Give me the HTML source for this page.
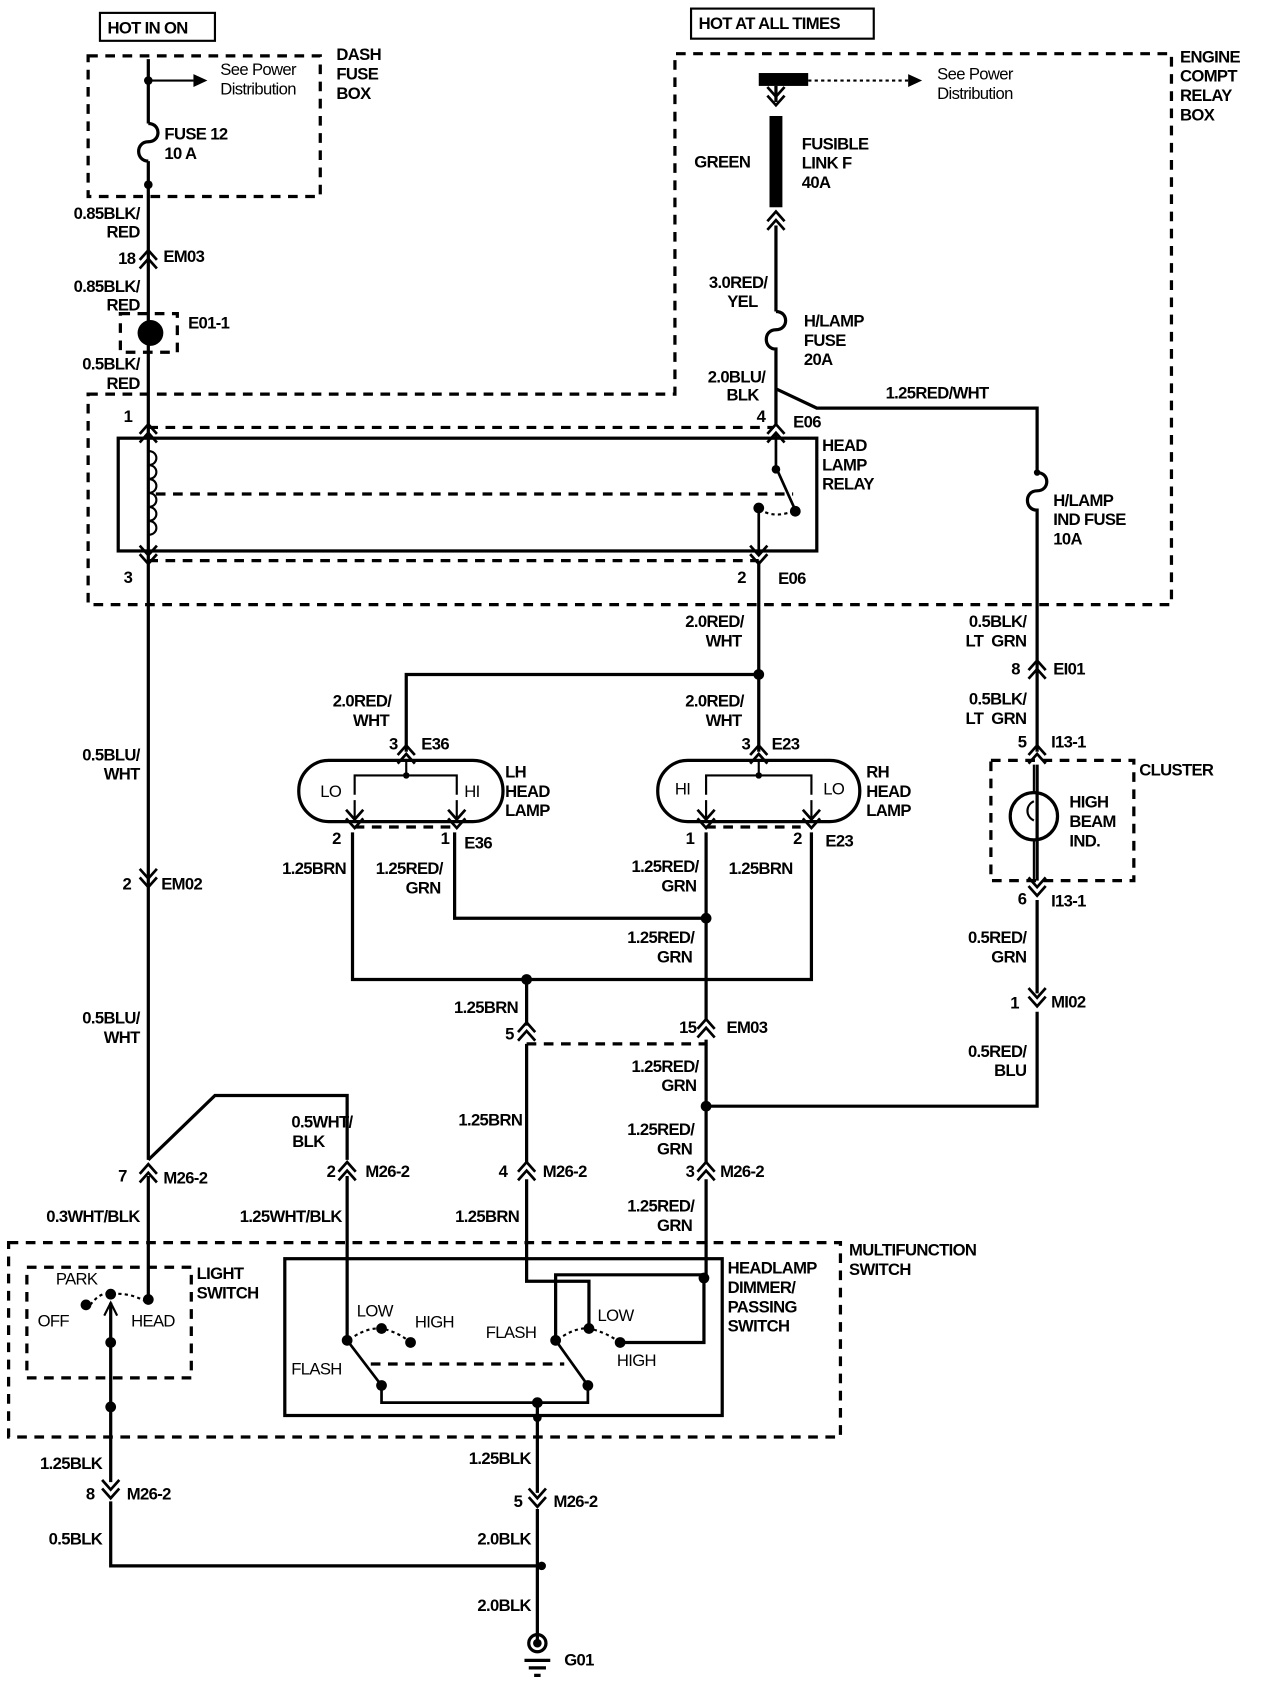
<!DOCTYPE html>
<html><head><meta charset="utf-8"><style>
html,body{margin:0;padding:0;background:#fff;}
svg{display:block;}
text{font-family:"Liberation Sans",sans-serif;font-weight:bold;font-size:15.5px;fill:#000;letter-spacing:-0.6px;}
.r{text-anchor:end;}
</style></head><body>
<svg width="1280" height="1684" viewBox="0 0 1191 1568" preserveAspectRatio="none" xmlns="http://www.w3.org/2000/svg">
<defs>
<path id="up" d="M-8,6 L0,-3 L8,6 M-8,14 L0,5 L8,14" fill="none" stroke="#000" stroke-width="2.5"/>
<path id="dn" d="M-8,-6 L0,3 L8,-6 M-8,2 L0,11 L8,2" fill="none" stroke="#000" stroke-width="2.5"/>
</defs>
<g fill="none" stroke="#000" stroke-width="3">
<rect x="93" y="12" width="107" height="26" stroke-width="2"/>
<rect x="643" y="8" width="170" height="28" stroke-width="2"/>
<g stroke-dasharray="9,7" stroke-width="3">
<rect x="82" y="52" width="216" height="131"/>
<path d="M82,367 H628 V50 H1090 V563 H82 Z"/>
<rect x="112" y="292" width="53" height="36"/>
<path d="M138,398 H720 M138,522 H706 M145,460 H738"/>
<rect x="922" y="708" width="133" height="112"/>
<path d="M330,770 H420 M657,770 H745 M490,972 H657"/>
<rect x="8" y="1157" width="774" height="181"/>
<rect x="25" y="1180" width="153" height="103"/>
<path d="M345,1270 H525"/>
</g>
<path d="M138,55 V115 M138,150 V1080"/>
<path d="M138,115 c12,0 12,17 0,17 c-12,0 -12,18 0,18"/>
<path d="M138,75 H180" stroke-width="2"/>
<path d="M138,1095 V1210"/>
<path d="M138,1080 L200,1020 H323 V1080"/>
<path d="M323,1095 V1248"/>
<rect x="110" y="408" width="650" height="105"/>
<path d="M138,420 c10,0 10,13 0,13 c10,0 10,13 0,13 c10,0 10,13 0,13 c10,0 10,13 0,13 c10,0 10,13 0,13 c10,0 10,13 0,13" stroke-width="2"/>
<path d="M722,405 V435 L740,475 M706,473 V515" stroke-width="2.5"/>
<path d="M712,477 Q725,482 740,475" stroke-width="2" stroke-dasharray="3,3"/>
<path d="M752,75 H845" stroke-width="2" stroke-dasharray="3,3"/>
<path d="M722,80 V95 M722,210 V290"/>
<path d="M722,290 c12,0 12,17 0,17 c-12,0 -12,18 0,18 V395"/>
<path d="M722,362 L760,380 H965 V440"/>
<path d="M965,440 c12,0 12,17 0,17 c-12,0 -12,18 0,18 V700"/>
<path d="M965,712 V820 M965,838 V925 M965,942 V1030 H657"/>
<path d="M706,522 V700 M706,628 H378 V700"/>
<rect x="278" y="708" width="190" height="57" rx="28"/>
<rect x="612" y="708" width="188" height="57" rx="28"/>
<path d="M378,708 V722 M330,740 V722 H425 V740 M330,745 V765 M425,745 V765" stroke-width="2"/>
<path d="M706,708 V722 M657,740 V722 H755 V740 M657,745 V765 M755,745 V765" stroke-width="2"/>
<path d="M328,775 V912 H755 V775 M423,775 V855 H657 M657,775 V950 M657,968 V1082 M490,912 V955 M490,972 V1082 M657,1098 V1187 M490,1098 V1193 H548 V1237 M517,1248 V1187 H655 V1250 H577"/>
<rect x="265" y="1172" width="407" height="146"/>
<path d="M323,1248 L355,1290 V1306 H547 V1290 L517,1248" stroke-width="2.5"/>
<path d="M330,1244 Q343,1236 355,1237 Q370,1240 382,1250" stroke-width="2" stroke-dasharray="3,3"/>
<path d="M524,1244 Q537,1236 548,1237 Q563,1240 577,1250" stroke-width="2" stroke-dasharray="3,3"/>
<path d="M103,1213 V1380 M103,1398 V1458 H504 M500,1306 V1390 M500,1405 V1530"/>
<path d="M84,1215 Q94,1202 103,1205 Q120,1203 136,1212" stroke-width="2" stroke-dasharray="3,3"/>
<path d="M97,1225 L103,1213 L109,1225" stroke-width="2"/>
<circle cx="500" cy="1530" r="8"/>
<path d="M488,1546 H512 M492,1553 H508 M497,1560 H503" stroke-width="3"/>
</g>
<g fill="#000">
<circle cx="138" cy="75" r="4"/><circle cx="138" cy="172" r="4"/>
<path d="M180,69 L193,75 L180,81 Z"/><path d="M845,69 L858,75 L845,81 Z"/>
<circle cx="140" cy="310" r="12"/>
<rect x="706" y="68" width="46" height="12"/>
<rect x="716" y="108" width="12" height="85"/>
<circle cx="722" cy="437" r="4"/><circle cx="706" cy="473" r="5"/><circle cx="740" cy="476" r="5"/>
<circle cx="965" cy="440" r="3"/><circle cx="706" cy="628" r="5"/>
<circle cx="490" cy="912" r="5"/><circle cx="657" cy="855" r="5"/><circle cx="657" cy="1030" r="5"/>
<circle cx="378" cy="722" r="3"/><circle cx="706" cy="722" r="3"/>
<circle cx="323" cy="1248" r="5"/><circle cx="355" cy="1237" r="5"/><circle cx="382" cy="1250" r="5"/>
<circle cx="355" cy="1290" r="5"/><circle cx="547" cy="1290" r="5"/><circle cx="500" cy="1306" r="5"/><circle cx="500" cy="1320" r="4"/>
<circle cx="517" cy="1248" r="5"/><circle cx="548" cy="1237" r="5"/><circle cx="577" cy="1250" r="5"/><circle cx="655" cy="1190" r="5"/>
<circle cx="138" cy="1210" r="5"/><circle cx="80" cy="1215" r="5"/><circle cx="103" cy="1205" r="5"/>
<circle cx="103" cy="1250" r="5"/><circle cx="103" cy="1310" r="5"/><circle cx="504" cy="1458" r="4"/>
<circle cx="500" cy="1530" r="4"/>
</g>
<circle cx="962" cy="760" r="22" fill="none" stroke="#000" stroke-width="3"/>
<path d="M962,712 V738 M962,782 V820 M962,746 c-8,4 -8,14 0,18" fill="none" stroke="#000" stroke-width="2"/>
<use href="#up" x="138" y="236"/><use href="#up" x="138" y="398"/><use href="#up" x="722" y="398"/>
<use href="#dn" x="138" y="514"/><use href="#dn" x="706" y="514"/>
<use href="#dn" x="722" y="87"/><use href="#up" x="722" y="200"/>
<use href="#up" x="965" y="618"/><use href="#up" x="965" y="697"/>
<use href="#dn" x="965" y="823"/><use href="#dn" x="965" y="926"/>
<use href="#up" x="378" y="697"/><use href="#up" x="706" y="697"/>
<use href="#dn" x="330" y="760"/><use href="#dn" x="425" y="760"/><use href="#dn" x="657" y="760"/><use href="#dn" x="755" y="760"/>
<use href="#dn" x="138" y="815"/>
<use href="#up" x="490" y="955"/><use href="#up" x="657" y="952"/>
<use href="#up" x="138" y="1087"/><use href="#up" x="323" y="1085"/><use href="#up" x="490" y="1085"/><use href="#up" x="657" y="1085"/>
<use href="#dn" x="103" y="1384"/><use href="#dn" x="500" y="1392"/>
<text x="100" y="31">HOT IN ON</text>
<text x="650" y="27">HOT AT ALL TIMES</text>
<text x="205" y="70" style="font-weight:normal">See Power</text>
<text x="205" y="88" style="font-weight:normal">Distribution</text>
<text x="313" y="56">DASH</text><text x="313" y="74">FUSE</text><text x="313" y="92">BOX</text>
<text x="153" y="130">FUSE 12</text><text x="153" y="148">10 A</text>
<text class="r" x="130" y="204">0.85BLK/</text><text class="r" x="130" y="221">RED</text>
<text class="r" x="126" y="246">18</text><text x="152" y="244">EM03</text>
<text class="r" x="130" y="272">0.85BLK/</text><text class="r" x="130" y="289">RED</text>
<text x="175" y="306">E01-1</text>
<text class="r" x="130" y="344">0.5BLK/</text><text class="r" x="130" y="362">RED</text>
<text x="872" y="74" style="font-weight:normal">See Power</text>
<text x="872" y="92" style="font-weight:normal">Distribution</text>
<text x="1098" y="58">ENGINE</text><text x="1098" y="76">COMPT</text><text x="1098" y="94">RELAY</text><text x="1098" y="112">BOX</text>
<text x="646" y="156">GREEN</text>
<text x="746" y="139">FUSIBLE</text><text x="746" y="157">LINK F</text><text x="746" y="175">40A</text>
<text class="r" x="714" y="268">3.0RED/</text><text class="r" x="705" y="286">YEL</text>
<text x="748" y="304">H/LAMP</text><text x="748" y="322">FUSE</text><text x="748" y="340">20A</text>
<text class="r" x="712" y="356">2.0BLU/</text><text class="r" x="706" y="373">BLK</text>
<text x="824" y="371">1.25RED/WHT</text>
<text x="115" y="393">1</text><text x="704" y="393">4</text><text x="738" y="398">E06</text>
<text x="765" y="420">HEAD</text><text x="765" y="438">LAMP</text><text x="765" y="456">RELAY</text>
<text x="115" y="543">3</text><text x="686" y="543">2</text><text x="724" y="544">E06</text>
<text x="980" y="471">H/LAMP</text><text x="980" y="489">IND FUSE</text><text x="980" y="507">10A</text>
<text class="r" x="692" y="584">2.0RED/</text><text class="r" x="690" y="602">WHT</text>
<text class="r" x="955" y="584">0.5BLK/</text><text class="r" x="955" y="602">LT&#160;&#160;GRN</text>
<text class="r" x="949" y="628">8</text><text x="980" y="628">EI01</text>
<text class="r" x="955" y="656">0.5BLK/</text><text class="r" x="955" y="674">LT&#160;&#160;GRN</text>
<text class="r" x="364" y="658">2.0RED/</text><text class="r" x="362" y="676">WHT</text>
<text class="r" x="692" y="658">2.0RED/</text><text class="r" x="690" y="676">WHT</text>
<text class="r" x="370" y="698">3</text><text x="392" y="698">E36</text>
<text class="r" x="698" y="698">3</text><text x="718" y="698">E23</text>
<text class="r" x="955" y="696">5</text><text x="978" y="696">I13-1</text>
<text x="1060" y="722">CLUSTER</text>
<text x="995" y="752">HIGH</text><text x="995" y="770">BEAM</text><text x="995" y="788">IND.</text>
<text x="470" y="724">LH</text><text x="470" y="742">HEAD</text><text x="470" y="760">LAMP</text>
<text x="806" y="724">RH</text><text x="806" y="742">HEAD</text><text x="806" y="760">LAMP</text>
<text x="298" y="742" style="font-weight:normal">LO</text><text x="432" y="742" style="font-weight:normal">HI</text>
<text x="628" y="740" style="font-weight:normal">HI</text><text x="766" y="740" style="font-weight:normal">LO</text>
<text x="309" y="786">2</text><text x="410" y="786">1</text><text x="432" y="790">E36</text>
<text x="638" y="786">1</text><text x="738" y="786">2</text><text x="768" y="788">E23</text>
<text class="r" x="322" y="814">1.25BRN</text>
<text class="r" x="412" y="814">1.25RED/</text><text class="r" x="410" y="832">GRN</text>
<text class="r" x="650" y="812">1.25RED/</text><text class="r" x="648" y="830">GRN</text>
<text x="678" y="814">1.25BRN</text>
<text class="r" x="130" y="708">0.5BLU/</text><text class="r" x="130" y="726">WHT</text>
<text class="r" x="122" y="828">2</text><text x="150" y="828">EM02</text>
<text class="r" x="955" y="842">6</text><text x="978" y="844">I13-1</text>
<text class="r" x="646" y="878">1.25RED/</text><text class="r" x="644" y="896">GRN</text>
<text class="r" x="955" y="878">0.5RED/</text><text class="r" x="955" y="896">GRN</text>
<text class="r" x="948" y="939">1</text><text x="978" y="938">MI02</text>
<text class="r" x="482" y="943">1.25BRN</text>
<text class="r" x="478" y="968">5</text>
<text class="r" x="648" y="962">15</text><text x="676" y="962">EM03</text>
<text class="r" x="130" y="953">0.5BLU/</text><text class="r" x="130" y="971">WHT</text>
<text class="r" x="955" y="984">0.5RED/</text><text class="r" x="955" y="1002">BLU</text>
<text class="r" x="650" y="998">1.25RED/</text><text class="r" x="648" y="1016">GRN</text>
<text class="r" x="328" y="1050">0.5WHT/</text><text class="r" x="302" y="1068">BLK</text>
<text class="r" x="486" y="1048">1.25BRN</text>
<text class="r" x="646" y="1057">1.25RED/</text><text class="r" x="644" y="1075">GRN</text>
<text class="r" x="118" y="1100">7</text><text x="152" y="1102">M26-2</text>
<text class="r" x="312" y="1096">2</text><text x="340" y="1096">M26-2</text>
<text class="r" x="472" y="1096">4</text><text x="505" y="1096">M26-2</text>
<text class="r" x="646" y="1096">3</text><text x="670" y="1096">M26-2</text>
<text class="r" x="130" y="1138">0.3WHT/BLK</text>
<text class="r" x="318" y="1138">1.25WHT/BLK</text>
<text class="r" x="483" y="1138">1.25BRN</text>
<text class="r" x="646" y="1128">1.25RED/</text><text class="r" x="644" y="1146">GRN</text>
<text x="790" y="1169">MULTIFUNCTION</text><text x="790" y="1187">SWITCH</text>
<text x="677" y="1186">HEADLAMP</text><text x="677" y="1204">DIMMER/</text><text x="677" y="1222">PASSING</text><text x="677" y="1240">SWITCH</text>
<text x="183" y="1191">LIGHT</text><text x="183" y="1209">SWITCH</text>
<text x="52" y="1196" style="font-weight:normal">PARK</text>
<text x="35" y="1235" style="font-weight:normal">OFF</text>
<text x="122" y="1235" style="font-weight:normal">HEAD</text>
<text x="332" y="1226" style="font-weight:normal">LOW</text><text x="386" y="1236" style="font-weight:normal">HIGH</text>
<text x="271" y="1280" style="font-weight:normal">FLASH</text>
<text x="452" y="1246" style="font-weight:normal">FLASH</text>
<text x="556" y="1230" style="font-weight:normal">LOW</text><text x="574" y="1272" style="font-weight:normal">HIGH</text>
<text class="r" x="95" y="1368">1.25BLK</text>
<text class="r" x="494" y="1363">1.25BLK</text>
<text class="r" x="88" y="1396">8</text><text x="118" y="1396">M26-2</text>
<text class="r" x="486" y="1403">5</text><text x="515" y="1403">M26-2</text>
<text class="r" x="95" y="1438">0.5BLK</text>
<text class="r" x="494" y="1438">2.0BLK</text>
<text class="r" x="494" y="1500">2.0BLK</text>
<text x="525" y="1551">G01</text>
</svg>
</body></html>
